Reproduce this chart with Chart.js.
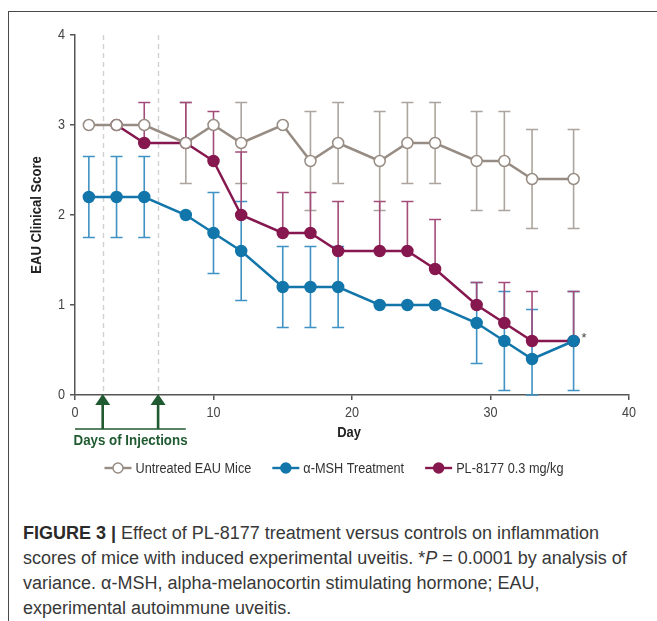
<!DOCTYPE html>
<html>
<head>
<meta charset="utf-8">
<script src="https://cdn.jsdelivr.net/npm/chart.js@4.4.1/dist/chart.umd.min.js"></script>
<style>
  html, body { margin: 0; padding: 0; background: #fff; }
  body { width: 657px; height: 621px; position: relative; overflow: hidden; }
  #frame { position: absolute; left: 8px; top: 11px; width: 700px; height: 700px;
           border-left: 1.5px solid #4a4a4a; border-top: 1.5px solid #4a4a4a; }
  #chart { position: absolute; left: 0; top: 0; }
  #caption { position: absolute; left: 23px; top: 521px; font-family: "Liberation Sans", Arial, sans-serif;
             font-size: 18px; line-height: 25px; color: #383838; white-space: nowrap; }
  #caption b { color: #2a2a2a; }
</style>
</head>
<body>
<div id="frame"></div>
<canvas id="chart" width="657" height="490"></canvas>
<div id="caption">
  <div><b>FIGURE 3 |</b> Effect of PL-8177 treatment versus controls on inflammation</div>
  <div>scores of mice with induced experimental uveitis. *<i>P</i> = 0.0001 by analysis of</div>
  <div>variance. α-MSH, alpha-melanocortin stimulating hormone; EAU,</div>
  <div>experimental autoimmune uveitis.</div>
</div>
<script>
// Study days on which clinical scores were recorded
const days = [1, 3, 5, 8, 10, 12, 15, 17, 19, 22, 24, 26, 29, 31, 33, 36];

// Untreated EAU mice: mean score and symmetric error (0 = no bar)
const untreated    = [3.0, 3.0, 3.0, 2.8, 3.0, 2.8, 3.0, 2.6, 2.8, 2.6, 2.8, 2.8, 2.6, 2.6, 2.4, 2.4];
const untreatedErr = [0, 0, 0, 0.45, 0, 0.45, 0, 0.55, 0.45, 0.55, 0.45, 0.45, 0.55, 0.55, 0.55, 0.55];

// alpha-MSH treatment: mean score and symmetric error
const msh    = [2.2, 2.2, 2.2, 2.0, 1.8, 1.6, 1.2, 1.2, 1.2, 1.0, 1.0, 1.0, 0.8, 0.6, 0.4, 0.6];
const mshErr = [0.45, 0.45, 0.45, 0, 0.45, 0.55, 0.45, 0.45, 0.45, 0, 0, 0, 0.45, 0.55, 0.55, 0.55];

// PL-8177 0.3 mg/kg: mean score and upper error only
const plDays   = [3, 5, 8, 10, 12, 15, 17, 19, 22, 24, 26, 29, 31, 33, 36];
const pl8177   = [3.0, 2.8, 2.8, 2.6, 2.0, 1.8, 1.8, 1.6, 1.6, 1.6, 1.4, 1.0, 0.8, 0.6, 0.6];
const plErrUp  = [0, 0.45, 0.45, 0.55, 0.7, 0.45, 0.45, 0.55, 0.55, 0.55, 0.55, 0.25, 0.45, 0.55, 0.55];

// Injection days and axis ticks
const injectionDays = [2, 6];
const injectionSpanEnd = 8;
const xTicks = [0, 10, 20, 30, 40];
const yTicks = [0, 1, 2, 3, 4];
const seriesLabels = ['Untreated EAU Mice', 'α-MSH Treatment', 'PL-8177 0.3 mg/kg'];
const xTitle = 'Day';
const yTitle = 'EAU Clinical Score';
const injectionLabel = 'Days of Injections';

const SANS = '"Liberation Sans", Arial, sans-serif';
const GRAY = '#978c83', GRAY_BAR = '#ada59d';
const BLUE = '#1276ab', BLUE_BAR = '#3f92c3';
const PLUM = '#86174f', PLUM_BAR = '#a34c79';
const GREEN = '#1f5a31';
const AXIS = '#555';

const toPts = (xs, ys) => xs.map((d, i) => ({ x: d, y: ys[i] }));

// Condensed text: Liberation Sans squeezed horizontally
function narrowText(ctx, text, x, y, opts) {
  const o = Object.assign({ size: 15, weight: 'normal', sx: 0.83, align: 'left', rot: 0, color: '#333' }, opts);
  ctx.save();
  ctx.translate(x, y);
  if (o.rot) ctx.rotate(o.rot);
  ctx.scale(o.sx, 1);
  ctx.font = o.weight + ' ' + o.size + 'px ' + SANS;
  ctx.fillStyle = o.color;
  ctx.textAlign = o.align;
  ctx.textBaseline = 'middle';
  ctx.fillText(text, 0, 0);
  const w = ctx.measureText(text).width * o.sx;
  ctx.restore();
  return w;
}
function narrowWidth(ctx, text, size, weight, sx) {
  ctx.save();
  ctx.font = weight + ' ' + size + 'px ' + SANS;
  const w = ctx.measureText(text).width * sx;
  ctx.restore();
  return w;
}

// Tick labels and axis titles in condensed type
const axisText = {
  id: 'axisText',
  afterDraw(chart) {
    const { ctx, chartArea, scales: { x, y } } = chart;
    x.ticks.forEach(t => narrowText(ctx, String(t.value), x.getPixelForValue(t.value), chartArea.bottom + 18,
      { size: 15, sx: 0.84, align: 'center', color: '#444' }));
    y.ticks.forEach(t => narrowText(ctx, String(t.value), chartArea.left - 10, y.getPixelForValue(t.value),
      { size: 15, sx: 0.84, align: 'right', color: '#444' }));
    narrowText(ctx, xTitle, (chartArea.left + chartArea.right) / 2 - 3, chartArea.bottom + 38,
      { size: 15, weight: 'bold', sx: 0.86, align: 'center', color: '#222' });
    narrowText(ctx, yTitle, 37, (chartArea.top + chartArea.bottom) / 2,
      { size: 15, weight: 'bold', sx: 0.87, align: 'center', rot: -Math.PI / 2, color: '#222' });
  }
};

// Vertical error bars with caps, drawn beneath the lines
const errorBars = {
  id: 'errorBars',
  beforeDatasetsDraw(chart) {
    const { ctx, scales: { x, y } } = chart;
    ctx.save();
    ctx.lineWidth = 1.6;
    chart.data.datasets.forEach(ds => {
      ctx.strokeStyle = ds.barColor;
      ds.data.forEach((p, i) => {
        const up = ds.errUp[i], dn = ds.errDown[i];
        if (!up && !dn) return;
        const px = x.getPixelForValue(p.x);
        const top = y.getPixelForValue(p.y + up);
        const bot = y.getPixelForValue(Math.max(0, p.y - dn));
        ctx.beginPath();
        ctx.moveTo(px, top); ctx.lineTo(px, bot);
        if (up) { ctx.moveTo(px - 6, top); ctx.lineTo(px + 6, top); }
        if (dn) { ctx.moveTo(px - 6, bot); ctx.lineTo(px + 6, bot); }
        ctx.stroke();
      });
    });
    ctx.restore();
  }
};

// Dashed guides and arrows marking the injection days
const injections = {
  id: 'injections',
  beforeDatasetsDraw(chart) {
    const { ctx, chartArea, scales: { x } } = chart;
    ctx.save();
    ctx.strokeStyle = '#d0d0d0';
    ctx.lineWidth = 1.4;
    ctx.setLineDash([5, 4]);
    injectionDays.forEach(d => {
      const px = Math.round(x.getPixelForValue(d)) + 0.5;
      ctx.beginPath(); ctx.moveTo(px, chartArea.top); ctx.lineTo(px, chartArea.bottom); ctx.stroke();
    });
    ctx.restore();
  },
  afterDraw(chart) {
    const { ctx, chartArea, scales: { x } } = chart;
    const base = chartArea.bottom;
    const lineY = base + 34;
    ctx.save();
    ctx.fillStyle = GREEN; ctx.strokeStyle = GREEN;
    injectionDays.forEach(d => {
      const px = x.getPixelForValue(d);
      ctx.beginPath();
      ctx.moveTo(px, base - 1); ctx.lineTo(px - 7.5, base + 10); ctx.lineTo(px + 7.5, base + 10);
      ctx.closePath(); ctx.fill();
      ctx.lineWidth = 2.6;
      ctx.beginPath(); ctx.moveTo(px, base + 9); ctx.lineTo(px, lineY); ctx.stroke();
    });
    ctx.lineWidth = 1.6;
    ctx.beginPath();
    ctx.moveTo(x.getPixelForValue(0), lineY); ctx.lineTo(x.getPixelForValue(injectionSpanEnd), lineY);
    ctx.stroke();
    ctx.restore();
    narrowText(ctx, injectionLabel, x.getPixelForValue(0) - 1.5, lineY + 11.5,
      { size: 15.5, weight: 'bold', sx: 0.86, color: GREEN });
  }
};

// Significance marker next to the final time point
const significance = {
  id: 'significance',
  afterDatasetsDraw(chart) {
    const { ctx, scales: { x, y } } = chart;
    const i = msh.length - 1;
    narrowText(ctx, '*', x.getPixelForValue(days[i]) + 8, y.getPixelForValue(msh[i]) - 3,
      { size: 13, sx: 1, color: '#444' });
  }
};

// Centered legend row: line segment with marker, then label
const lineLegend = {
  id: 'lineLegend',
  afterDraw(chart) {
    const { ctx } = chart;
    const cy = 468, sym = 27, gapText = 4, gapItem = 21, size = 15.5, sx = 0.82;
    const items = chart.data.datasets.map(ds => ({ ds, w: narrowWidth(ctx, ds.label, size, 'normal', sx) }));
    const total = items.reduce((s, it) => s + sym + gapText + it.w, 0) + gapItem * (items.length - 1);
    let cx = 334 - total / 2;
    items.forEach(({ ds, w }) => {
      ctx.save();
      ctx.strokeStyle = ds.borderColor; ctx.lineWidth = 2.4;
      ctx.beginPath(); ctx.moveTo(cx, cy); ctx.lineTo(cx + sym, cy); ctx.stroke();
      ctx.beginPath(); ctx.arc(cx + sym / 2, cy, 5, 0, Math.PI * 2);
      ctx.fillStyle = ds.pointBackgroundColor; ctx.fill();
      ctx.lineWidth = 1.5; ctx.strokeStyle = ds.pointBorderColor; ctx.stroke();
      ctx.restore();
      narrowText(ctx, ds.label, cx + sym + gapText, cy + 0.5, { size, sx, color: '#333' });
      cx += sym + gapText + w + gapItem;
    });
  }
};

const lineStyle = (color, fill) => ({
  borderColor: color, borderWidth: 2.5, pointRadius: 5.5, pointHoverRadius: 5.5,
  pointBackgroundColor: fill, pointBorderColor: color, pointBorderWidth: 1.5, tension: 0
});

new Chart(document.getElementById('chart'), {
  type: 'line',
  data: {
    datasets: [
      Object.assign({ label: seriesLabels[0], data: toPts(days, untreated),
        errUp: untreatedErr, errDown: untreatedErr, barColor: GRAY_BAR }, lineStyle(GRAY, '#fff')),
      Object.assign({ label: seriesLabels[1], data: toPts(days, msh),
        errUp: mshErr, errDown: mshErr, barColor: BLUE_BAR }, lineStyle(BLUE, BLUE)),
      Object.assign({ label: seriesLabels[2], data: toPts(plDays, pl8177),
        errUp: plErrUp, errDown: plErrUp.map(() => 0), barColor: PLUM_BAR }, lineStyle(PLUM, PLUM))
    ]
  },
  options: {
    responsive: false,
    animation: false,
    events: [],
    layout: { padding: { top: 35, right: 28, left: 0, bottom: 0 } },
    plugins: { legend: { display: false }, tooltip: { enabled: false } },
    scales: {
      x: {
        type: 'linear', min: 0, max: 40,
        afterBuildTicks: s => { s.ticks = xTicks.map(v => ({ value: v })); },
        afterFit: s => { s.height = 95; },
        grid: { drawOnChartArea: false, drawTicks: true, tickLength: 5, color: AXIS, lineWidth: 1.5 },
        border: { display: true, color: AXIS, width: 1.5 },
        ticks: { display: false }
      },
      y: {
        min: 0, max: 4,
        afterBuildTicks: s => { s.ticks = yTicks.map(v => ({ value: v })); },
        afterFit: s => { s.width = 75; },
        grid: { drawOnChartArea: false, drawTicks: true, tickLength: 5, color: AXIS, lineWidth: 1.5 },
        border: { display: true, color: AXIS, width: 1.5 },
        ticks: { display: false }
      }
    }
  },
  plugins: [injections, errorBars, significance, lineLegend, axisText]
});
</script>
</body>
</html>
